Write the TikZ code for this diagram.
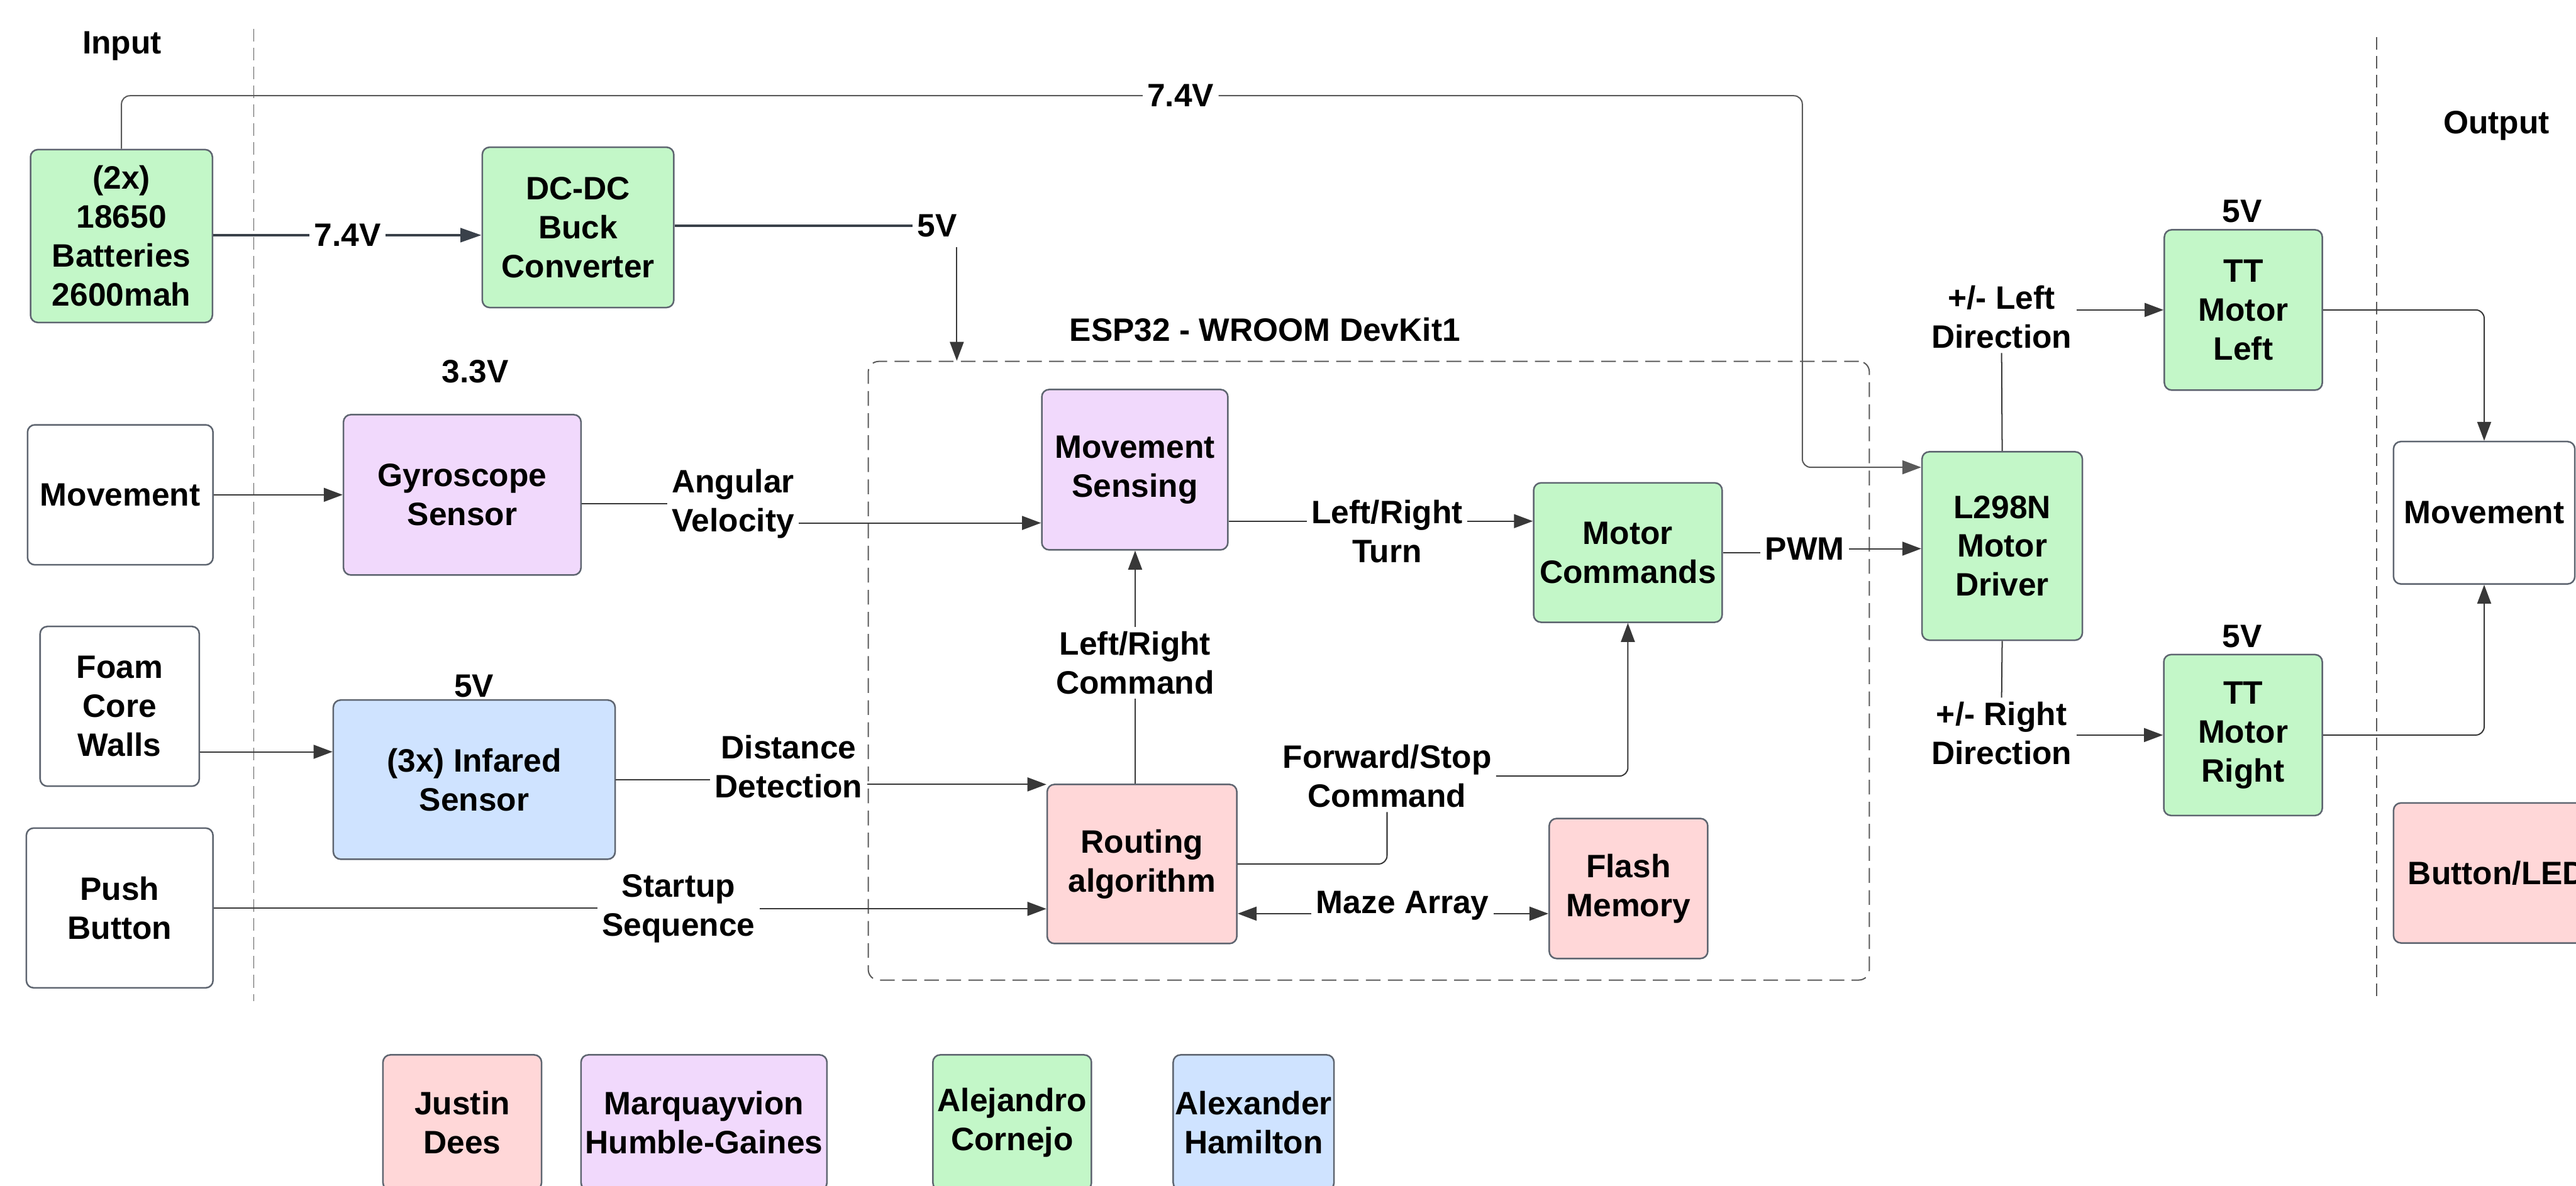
\documentclass[tikz,border=0pt]{standalone}
\usepackage{fontspec}
\setmainfont{Liberation Sans}
\usetikzlibrary{arrows.meta}
\definecolor{BlockGreen}{HTML}{C3F7C8}
\definecolor{BlockPurple}{HTML}{F1D9FC}
\definecolor{BlockBlue}{HTML}{CFE3FF}
\definecolor{BlockPink}{HTML}{FFD7D8}
\definecolor{BlockEdge}{HTML}{5E6570}
\definecolor{WireInk}{HTML}{383838}
\definecolor{PowerInk}{HTML}{3A414A}
\definecolor{GuideInk}{HTML}{5A5A5A}
\tikzset{
    flow/diagram/.style={
        font=\fontsize{15.4}{18.5}\selectfont\bfseries,
        line cap=butt,
        line join=round
    },
    flow/block/.style={
        draw=BlockEdge, line width=0.75pt, rounded corners=3.5pt,
        align=center, inner sep=1pt
    },
    flow/label/.style={align=center, inner sep=2pt},
    flow/wire/.style={draw=WireInk, line width=0.6pt},
    flow/link/.style={
        draw=WireInk, line width=0.6pt,
        -{Triangle[length=9pt, width=6.6pt]}
    },
    flow/power/.style={draw=PowerInk, line width=1.3pt},
    flow/supply/.style={draw=GuideInk, line width=0.6pt, rounded corners=4pt},
    flow/group/.style={
        draw=GuideInk, line width=0.6pt, rounded corners=5pt,
        dash pattern=on 7pt off 3.5pt
    },
    flow/divider/.style={
        draw=GuideInk, line width=0.55pt,
        dash pattern=on 6pt off 3pt
    }
}

\begin{document}
\begin{tikzpicture}[flow/diagram]
    \useasboundingbox (0,0) rectangle (43.05,-19.82);
    \clip (0,0) rectangle (43.05,-19.82);
    \fill[white] (0,0) rectangle (43.05,-19.82);

    \draw[flow/divider] (4.24,-0.48) -- (4.24,-16.73);
    \draw[flow/divider] (39.72,-0.62) -- (39.72,-16.67);
    \node (input) at (2.04,-0.77) {Input};
    \node (output) at (41.72,-2.10) {Output};

    \node[flow/group, minimum width=16.73cm, minimum height=10.34cm] (esp) at (22.875,-11.21) {};
    \node (title) at (21.14,-5.51) {ESP32 - WROOM DevKit1};

    \node[flow/block, fill=BlockGreen, minimum width=3.04cm, minimum height=2.89cm] (batt) at (2.03,-3.945) {(2x)\\18650\\Batteries\\2600mah};
    \node[flow/block, fill=BlockGreen, minimum width=3.20cm, minimum height=2.68cm] (buck) at (9.66,-3.80) {DC-DC\\Buck\\Converter};
    \node[flow/block, fill=white, minimum width=3.10cm, minimum height=2.34cm] (inmove) at (2.01,-8.27) {Movement};
    \node[flow/block, fill=BlockPurple, minimum width=3.97cm, minimum height=2.68cm] (gyro) at (7.725,-8.27) {Gyroscope\\Sensor};
    \node[flow/block, fill=white, minimum width=2.66cm, minimum height=2.67cm] (foam) at (2.00,-11.805) {Foam\\Core\\Walls};
    \node[flow/block, fill=BlockBlue, minimum width=4.71cm, minimum height=2.66cm] (ir) at (7.925,-13.03) {(3x) Infared\\Sensor};
    \node[flow/block, fill=white, minimum width=3.12cm, minimum height=2.67cm] (push) at (2.00,-15.175) {Push\\Button};

    \node[flow/block, fill=BlockPurple, minimum width=3.11cm, minimum height=2.68cm] (msense) at (18.965,-7.85) {Movement\\Sensing};
    \node[flow/block, fill=BlockGreen, minimum width=3.15cm, minimum height=2.33cm] (mcmd) at (27.205,-9.235) {Motor\\Commands};
    \node[flow/block, fill=BlockPink, minimum width=3.17cm, minimum height=2.66cm] (route) at (19.085,-14.44) {Routing\\algorithm};
    \node[flow/block, fill=BlockPink, minimum width=2.65cm, minimum height=2.34cm] (flash) at (27.215,-14.85) {Flash\\Memory};

    \node[flow/block, fill=BlockGreen, minimum width=2.68cm, minimum height=3.15cm] (l298) at (33.46,-9.125) {L298N\\Motor\\Driver};
    \node[flow/block, fill=BlockGreen, minimum width=2.64cm, minimum height=2.68cm] (ttl) at (37.49,-5.18) {TT\\Motor\\Left};
    \node[flow/block, fill=BlockGreen, minimum width=2.65cm, minimum height=2.69cm] (ttr) at (37.485,-12.285) {TT\\Motor\\Right};
    \node[flow/block, fill=white, minimum width=3.03cm, minimum height=2.38cm] (outmove) at (41.515,-8.57) {Movement};
    \node[flow/block, fill=BlockPink, minimum width=3.46cm, minimum height=2.34cm] (btnled) at (41.73,-14.59) {Button/LED};

    \node[flow/block, fill=BlockPink, minimum width=2.65cm, minimum height=2.26cm] (justin) at (7.725,-18.76) {Justin\\Dees};
    \node[flow/block, fill=BlockPurple, minimum width=4.11cm, minimum height=2.26cm] (marq) at (11.765,-18.76) {Marquayvion\\Humble-Gaines};
    \node[flow/block, fill=BlockGreen, minimum width=2.65cm, minimum height=2.26cm] (alej) at (16.915,-18.76) {Alejandro\\Cornejo};
    \node[flow/block, fill=BlockBlue, minimum width=2.66cm, minimum height=2.26cm] (alex) at (20.95,-18.76) {Alexander\\Hamilton};

    \node[flow/label] (v74a) at (5.81,-3.93) {7.4V};
    \node[flow/label] (v74b) at (19.73,-1.60) {7.4V};
    \node[flow/label] (v5buck) at (15.66,-3.77) {5V};
    \node[flow/label] (v33) at (7.94,-6.21) {3.3V};
    \node[flow/label] (v5ir) at (7.92,-11.47) {5V};
    \node[flow/label] (v5l) at (37.47,-3.53) {5V};
    \node[flow/label] (v5r) at (37.47,-10.64) {5V};
    \node[flow/label] (AV) at (12.25,-8.42) {Angular\\Velocity};
    \node[flow/label] (DD) at (13.18,-12.81) {Distance\\Detection};
    \node[flow/label] (SS) at (11.34,-15.19) {Startup\\Sequence};
    \node[flow/label] (LRT) at (23.18,-8.88) {Left/Right\\Turn};
    \node[flow/label] (LRC) at (18.97,-11.08) {Left/Right\\Command};
    \node[flow/label] (FS) at (23.18,-12.97) {Forward/Stop\\Command};
    \node[flow/label] (MA) at (23.44,-15.14) {Maze Array};
    \node[flow/label] (PWM) at (30.16,-9.17) {PWM};
    \node[flow/label] (LD) at (33.45,-5.30) {+/- Left\\Direction};
    \node[flow/label] (RD) at (33.45,-12.26) {+/- Right\\Direction};
    \coordinate (drop) at (15.99,-4.13);
    \coordinate (bend) at (30.12,-7.81);

    \draw[flow/power] (v74a.west -| batt.east) -- (v74a.west);
    \draw[flow/power, -{Triangle[length=10pt, width=6.6pt]}] (v74a.east) -- (v74a.east -| buck.west);
    \draw[flow/power] (v5buck.west -| buck.east) -- (v5buck.west);
    \draw[flow/link] (drop) -- (drop |- esp.north);
    \draw[flow/supply] (batt.north) |- (v74b.west);
    \draw[flow/supply, -{Triangle[length=9pt, width=6.6pt]}] (v74b.east) -| (bend) -- (bend -| l298.west);

    \draw[flow/link] (inmove.east) -- (gyro.west);
    \draw[flow/wire] (AV.west -| gyro.east) -- (AV.west);
    \draw[flow/link] ([yshift=-3.2mm]AV.east) -- ([yshift=-3.2mm]AV.east -| msense.west);
    \draw[flow/link] ([yshift=-7.6mm]foam.east) -- ([yshift=-7.6mm]foam.east -| ir.west);
    \draw[flow/wire] (ir.east) -- (ir.east -| DD.west);
    \draw[flow/link] ([yshift=-3mm]DD.east) -- ([yshift=-3mm]DD.east -| route.west);
    \draw[flow/wire] (push.east) -- (push.east -| SS.west);
    \draw[flow/link] (SS.east) -- (SS.east -| route.west);

    \draw[flow/wire] (LRC.south |- route.north) -- (LRC.south);
    \draw[flow/link] (LRC.north) -- (LRC.north |- msense.south);
    \draw[flow/wire] ([yshift=-8.6mm]msense.east) -- ([yshift=-8.6mm]msense.east -| LRT.west);
    \draw[flow/link] ([yshift=-8.6mm]msense.east -| LRT.east) -- ([yshift=-8.6mm]msense.east -| mcmd.west);
    \draw[flow/wire, rounded corners=4pt] (route.east) -| (FS.south);
    \draw[flow/link, rounded corners=4pt] (FS.east) -| (mcmd.south);
    \draw[flow/link] (MA.base west) -- (MA.base west -| route.east);
    \draw[flow/link] (MA.base east) -- (MA.base east -| flash.west);

    \draw[flow/wire] (mcmd.east) -- (mcmd.east -| PWM.west);
    \draw[flow/link] (PWM.east) -- (PWM.east -| l298.west);
    \draw[flow/wire] (l298.north) -- (LD.south);
    \draw[flow/link] (LD.east |- ttl.west) -- (ttl.west);
    \draw[flow/wire] (l298.south) -- (RD.north);
    \draw[flow/link] (RD.east |- ttr.west) -- (ttr.west);
    \draw[flow/link, rounded corners=4pt] (ttl.east) -| (outmove.north);
    \draw[flow/link, rounded corners=4pt] (ttr.east) -| (outmove.south);
\end{tikzpicture}
\end{document}
